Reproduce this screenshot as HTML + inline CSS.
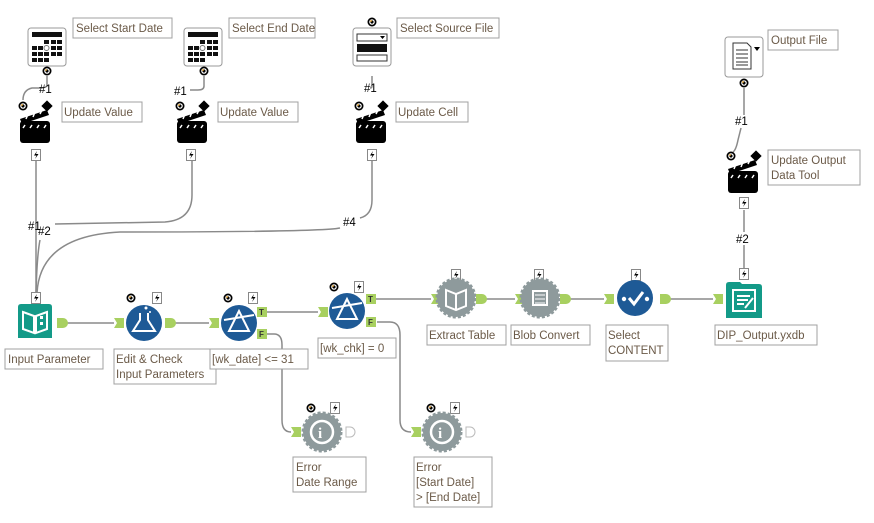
<!DOCTYPE html>
<html><head><meta charset="utf-8"><style>
html,body{margin:0;padding:0;background:#fff;}
svg{display:block;font-family:"Liberation Sans",sans-serif;}
.lb{fill:#fff;stroke:#a0a0a0;stroke-width:1;}
.lt{fill:#6b5a48;font-size:11.5px;}
.w{fill:none;stroke:#8a8a8a;stroke-width:1.5;}
.hn{font-size:11.5px;fill:#000;}
</style></head><body>
<svg width="874" height="523" viewBox="0 0 874 523">
<defs>
<g id="q"><circle r="4.5" fill="#000"/><circle r="2.2" fill="none" stroke="#fff" stroke-width="1.2"/><circle cx="-1" cy="-1" r="0.9" fill="#e8a020"/></g>
<g id="bolt"><rect x="-4.5" y="-5.5" width="9" height="11" fill="#fff" stroke="#888"/><path d="M1,-4 L-2,0.5 L0.5,0.5 L-1,4 L2.5,-1 L0,-1 Z" fill="#000"/></g>
<g id="dia"><rect x="-4" y="-4" width="8" height="8" fill="#000" transform="rotate(45)"/></g>
<g id="inA"><path d="M-5,-5 L5,-5 L5,5 L-5,5 L-2,0 Z" fill="#a8d060"/></g>
<g id="outA"><path d="M-5,-5 L1,-5 A5,5 0 0 1 1,5 L-5,5 Z" fill="#a8d060"/></g>
<g id="cal"><rect x="0" y="0" width="38" height="38" rx="3" fill="#fff" stroke="#999"/><rect x="4" y="4" width="30" height="5" fill="#111"/>
<g fill="#111"><rect x="16" y="12" width="5" height="4"/><rect x="23" y="12" width="5" height="4"/><rect x="29" y="12" width="5" height="4"/>
<rect x="4" y="18" width="5" height="4"/><rect x="10" y="18" width="5" height="4"/><rect x="23" y="18" width="5" height="4"/><rect x="29" y="18" width="5" height="4"/>
<rect x="4" y="24" width="5" height="4"/><rect x="10" y="24" width="5" height="4"/><rect x="16" y="24" width="5" height="4"/><rect x="23" y="24" width="5" height="4"/><rect x="29" y="24" width="5" height="4"/>
<rect x="4" y="30" width="5" height="4"/><rect x="10" y="30" width="5" height="4"/><rect x="16" y="30" width="5" height="4"/></g>
<circle cx="18.5" cy="20" r="2.5" fill="none" stroke="#777"/></g>
<g id="clap"><rect x="0" y="15" width="30" height="22" rx="3" fill="#000"/><path d="M0,13 L27,4 L29,9 L2,18 Z" fill="#000"/><g stroke="#fff" stroke-width="1.5"><path d="M6,13 L8,8 M13,11 L15,6 M20,8 L22,4"/><path d="M5,19 L3,22 M12,19 L10,22 M19,19 L17,22 M26,19 L24,22"/></g></g>
<g id="gear"><circle r="19" fill="#8e9a9c" stroke="#8e9a9c" stroke-width="3" stroke-dasharray="3 2"/><circle r="15" fill="#8e9a9c"/></g>
</defs>

<!-- wires -->
<path class="w" d="M36,160 L36,293"/>
<path class="w" d="M192,160 L192,195 Q192,220 165,222 L55,224"/>
<path class="w" d="M40,240 Q37,255 36,293"/>
<path class="w" d="M372,160 L372,200 Q372,215 360,218"/>
<path class="w" d="M340,228 Q320,232 120,232 Q40,236 37,293"/>
<path class="w" d="M47,76 L47,86 Q45,88 40,88 L32,88 Q23,90 23,100"/>
<path class="w" d="M204,76 L204,86 Q204,90 198,90 L190,90"/>
<path class="w" d="M372,76 L372,86 Q372,88 370,88"/>
<path class="w" d="M744,88 L744,115 M741,128 L738,140 Q736,150 733,152"/>
<path class="w" d="M744,210 L744,232 M744,245 L744,268"/>
<path class="w" d="M67,323 L114,323"/><path class="w" d="M175,323 L209,323"/>
<path class="w" d="M267,312 L318,312"/>
<path class="w" d="M376,299 L431,299"/><path class="w" d="M486,299 L515,299"/><path class="w" d="M570,299 L604,299"/><path class="w" d="M670,299 L713,299"/>
<path class="w" d="M267,334 L274,334 Q282,334 282,345 L282,420 Q282,432 291,432"/>
<path class="w" d="M377,322 L390,322 Q400,322 400,335 L400,420 Q400,432 411,432"/>

<text class="hn" x="39" y="93">#1</text>
<text class="hn" x="174" y="95">#1</text>
<text class="hn" x="364" y="92">#1</text>
<text class="hn" x="735" y="125">#1</text>
<text class="hn" x="736" y="243">#2</text>
<text class="hn" x="28" y="230">#1</text>
<text class="hn" x="38" y="235">#2</text>
<text class="hn" x="343" y="226">#4</text>

<!-- top icons -->
<use href="#cal" x="28" y="28"/><use href="#q" x="47" y="71"/>
<use href="#cal" x="184" y="28"/><use href="#q" x="204" y="71"/>
<g transform="translate(353,28)"><rect width="38" height="38" rx="3" fill="#fff" stroke="#999"/><rect x="4" y="6" width="30" height="7" fill="#fff" stroke="#333"/><path d="M27,8 L32,8 L29.5,11 Z" fill="#000"/><rect x="4" y="16" width="30" height="8" fill="#111"/><rect x="4" y="27" width="30" height="6" fill="#fff" stroke="#333"/></g>
<use href="#q" x="372" y="22"/>
<g transform="translate(725,37)"><rect width="38" height="40" rx="3" fill="#fff" stroke="#999"/><path d="M8,6 L22,6 L26,10 L26,32 L8,32 Z" fill="#fff" stroke="#333"/><g stroke="#333"><path d="M11,13H23M11,17H23M11,21H23M11,25H23M11,28H23"/></g><path d="M29,10 L35,10 L32,14 Z" fill="#000"/></g>
<use href="#q" x="744" y="83"/>

<use href="#clap" x="20" y="106"/><use href="#q" x="23" y="106"/><use href="#dia" x="47" y="106"/><use href="#bolt" x="36" y="155"/>
<use href="#clap" x="177" y="106"/><use href="#q" x="180" y="106"/><use href="#dia" x="204" y="106"/><use href="#bolt" x="191" y="155"/>
<use href="#clap" x="356" y="106"/><use href="#q" x="359" y="106"/><use href="#dia" x="383" y="106"/><use href="#bolt" x="372" y="155"/>
<use href="#clap" x="728" y="156"/><use href="#q" x="731" y="156"/><use href="#dia" x="756" y="156"/><use href="#bolt" x="744" y="203"/>

<!-- labels top -->
<rect class="lb" x="73" y="18" width="99" height="20"/><text class="lt" x="76" y="32">Select Start Date</text>
<rect class="lb" x="229" y="18" width="86" height="20"/><text class="lt" x="232" y="32">Select End Date</text>
<rect class="lb" x="397" y="18" width="102" height="20"/><text class="lt" x="400" y="32">Select Source File</text>
<rect class="lb" x="768" y="30" width="70" height="20"/><text class="lt" x="771" y="44">Output File</text>
<rect class="lb" x="62" y="102" width="80" height="20"/><text class="lt" x="64" y="116">Update Value</text>
<rect class="lb" x="218" y="102" width="80" height="20"/><text class="lt" x="220" y="116">Update Value</text>
<rect class="lb" x="396" y="102" width="72" height="20"/><text class="lt" x="398" y="116">Update Cell</text>
<rect class="lb" x="768" y="150" width="92" height="35"/><text class="lt" x="771" y="164">Update Output</text><text class="lt" x="771" y="179">Data Tool</text>

<!-- main row -->
<use href="#bolt" x="36" y="298"/>
<g transform="translate(18,304)"><path d="M0,3 Q0,0 3,0 L31,0 Q34,0 34,3 L34,34 L0,34 Z" fill="#139a88"/><path d="M5,8 L16,12 L16,29 L5,25 Z M29,8 L18,12 L18,29 L29,25 Z" fill="none" stroke="#fff" stroke-width="2"/><rect x="22" y="12" width="3" height="3" fill="#fff"/><rect x="22" y="18" width="3" height="3" fill="#fff"/></g>
<use href="#outA" x="62" y="323"/>
<rect class="lb" x="5" y="349" width="98" height="20"/><text class="lt" x="8" y="363">Input Parameter</text>

<use href="#q" x="131" y="298"/><use href="#bolt" x="157" y="298"/><use href="#inA" x="119" y="323"/>
<circle cx="144" cy="323" r="18" fill="#1e5a96"/><path d="M140,313 L140,320 L133,331 L155,331 L148,320 L148,313" fill="none" stroke="#fff" stroke-width="2"/><circle cx="146" cy="308" r="1.5" fill="#fff"/><circle cx="150" cy="312" r="1" fill="#fff"/>
<use href="#outA" x="170" y="323"/>
<rect class="lb" x="114" y="349" width="102" height="35"/><text class="lt" x="116" y="363">Edit &amp; Check</text><text class="lt" x="116" y="378">Input Parameters</text>

<use href="#q" x="228" y="298"/><use href="#bolt" x="253" y="298"/><use href="#inA" x="214" y="323"/>
<circle cx="239" cy="323" r="18" fill="#1e5a96"/><path d="M239,311 L229,331 L249,331 Z M224,320 L254,315" fill="none" stroke="#fff" stroke-width="2"/>
<rect x="257" y="307" width="10" height="10" fill="#a8d060"/><text x="259" y="315" font-size="8" font-weight="bold" fill="#333">T</text>
<rect x="257" y="329" width="10" height="10" fill="#a8d060"/><text x="259" y="337" font-size="8" font-weight="bold" fill="#333">F</text>
<rect class="lb" x="210" y="349" width="98" height="20"/><text class="lt" x="212" y="363">[wk_date] &lt;= 31</text>

<use href="#q" x="334" y="287"/><use href="#bolt" x="359" y="287"/><use href="#inA" x="323" y="312"/>
<circle cx="347" cy="311" r="18" fill="#1e5a96"/><path d="M347,299 L337,319 L357,319 Z M332,308 L362,303" fill="none" stroke="#fff" stroke-width="2"/>
<rect x="366" y="294" width="10" height="10" fill="#a8d060"/><text x="368" y="302" font-size="8" font-weight="bold" fill="#333">T</text>
<rect x="366" y="317" width="10" height="10" fill="#a8d060"/><text x="368" y="325" font-size="8" font-weight="bold" fill="#333">F</text>
<rect class="lb" x="318" y="338" width="78" height="20"/><text class="lt" x="320" y="352">[wk_chk] = 0</text>

<use href="#bolt" x="456" y="275"/><use href="#inA" x="436" y="299"/><use href="#gear" x="456" y="298"/>
<path d="M446,290 L456,294 L466,290 L466,306 L456,310 L446,306 Z M456,294 L456,310" fill="none" stroke="#fff" stroke-width="2"/>
<use href="#outA" x="481" y="299"/>
<rect class="lb" x="427" y="325" width="79" height="20"/><text class="lt" x="429" y="339">Extract Table</text>

<use href="#bolt" x="539" y="275"/><use href="#inA" x="520" y="299"/><use href="#gear" x="540" y="298"/>
<rect x="533" y="291" width="14" height="14" fill="none" stroke="#fff" stroke-width="2"/><path d="M535,295H545M535,299H545M535,303H545" stroke="#fff"/>
<use href="#outA" x="565" y="299"/>
<rect class="lb" x="511" y="325" width="79" height="20"/><text class="lt" x="513" y="339">Blob Convert</text>

<use href="#bolt" x="636" y="275"/><use href="#inA" x="609" y="299"/>
<circle cx="635" cy="298" r="18" fill="#1e5a96"/><circle cx="624" cy="299" r="2.2" fill="#fff"/><path d="M629,298 L634,304 L643,292" fill="none" stroke="#fff" stroke-width="3"/><circle cx="647" cy="299" r="2.2" fill="#fff"/>
<use href="#outA" x="665" y="299"/>
<rect class="lb" x="606" y="325" width="62" height="36"/><text class="lt" x="608" y="339">Select</text><text class="lt" x="608" y="354">CONTENT</text>

<use href="#bolt" x="744" y="274"/><use href="#inA" x="718" y="299"/>
<g transform="translate(726,282)"><path d="M0,3 Q0,0 3,0 L14,0 L16,2 L33,2 Q36,2 36,5 L36,36 L0,36 Z" fill="#139a88"/><rect x="7" y="8" width="22" height="21" fill="none" stroke="#fff" stroke-width="2"/><path d="M11,14H24M11,18H22M11,22H18M19,26L27,16" stroke="#fff" stroke-width="2"/></g>
<rect class="lb" x="715" y="325" width="102" height="20"/><text class="lt" x="717" y="339">DIP_Output.yxdb</text>

<!-- errors -->
<use href="#q" x="311" y="408"/><use href="#bolt" x="335" y="408"/><use href="#inA" x="296" y="432"/>
<use href="#gear" x="322" y="432"/><circle cx="322" cy="432" r="11" fill="none" stroke="#fff" stroke-width="2.5"/><text x="318" y="438" font-size="15" font-weight="bold" fill="#fff" font-family="Liberation Serif">i</text>
<path d="M346,427 L350,427 A5,5 0 0 1 350,437 L346,437 Z" fill="#fff" stroke="#bbb"/>
<rect class="lb" x="293" y="457" width="73" height="35"/><text class="lt" x="296" y="471">Error</text><text class="lt" x="296" y="486">Date Range</text>

<use href="#q" x="431" y="408"/><use href="#bolt" x="455" y="408"/><use href="#inA" x="416" y="432"/>
<use href="#gear" x="442" y="432"/><circle cx="442" cy="432" r="11" fill="none" stroke="#fff" stroke-width="2.5"/><text x="438" y="438" font-size="15" font-weight="bold" fill="#fff" font-family="Liberation Serif">i</text>
<path d="M466,427 L470,427 A5,5 0 0 1 470,437 L466,437 Z" fill="#fff" stroke="#bbb"/>
<rect class="lb" x="414" y="457" width="78" height="50"/><text class="lt" x="416" y="471">Error</text><text class="lt" x="416" y="486">[Start Date]</text><text class="lt" x="416" y="501">&gt; [End Date]</text>
</svg>
</body></html>
